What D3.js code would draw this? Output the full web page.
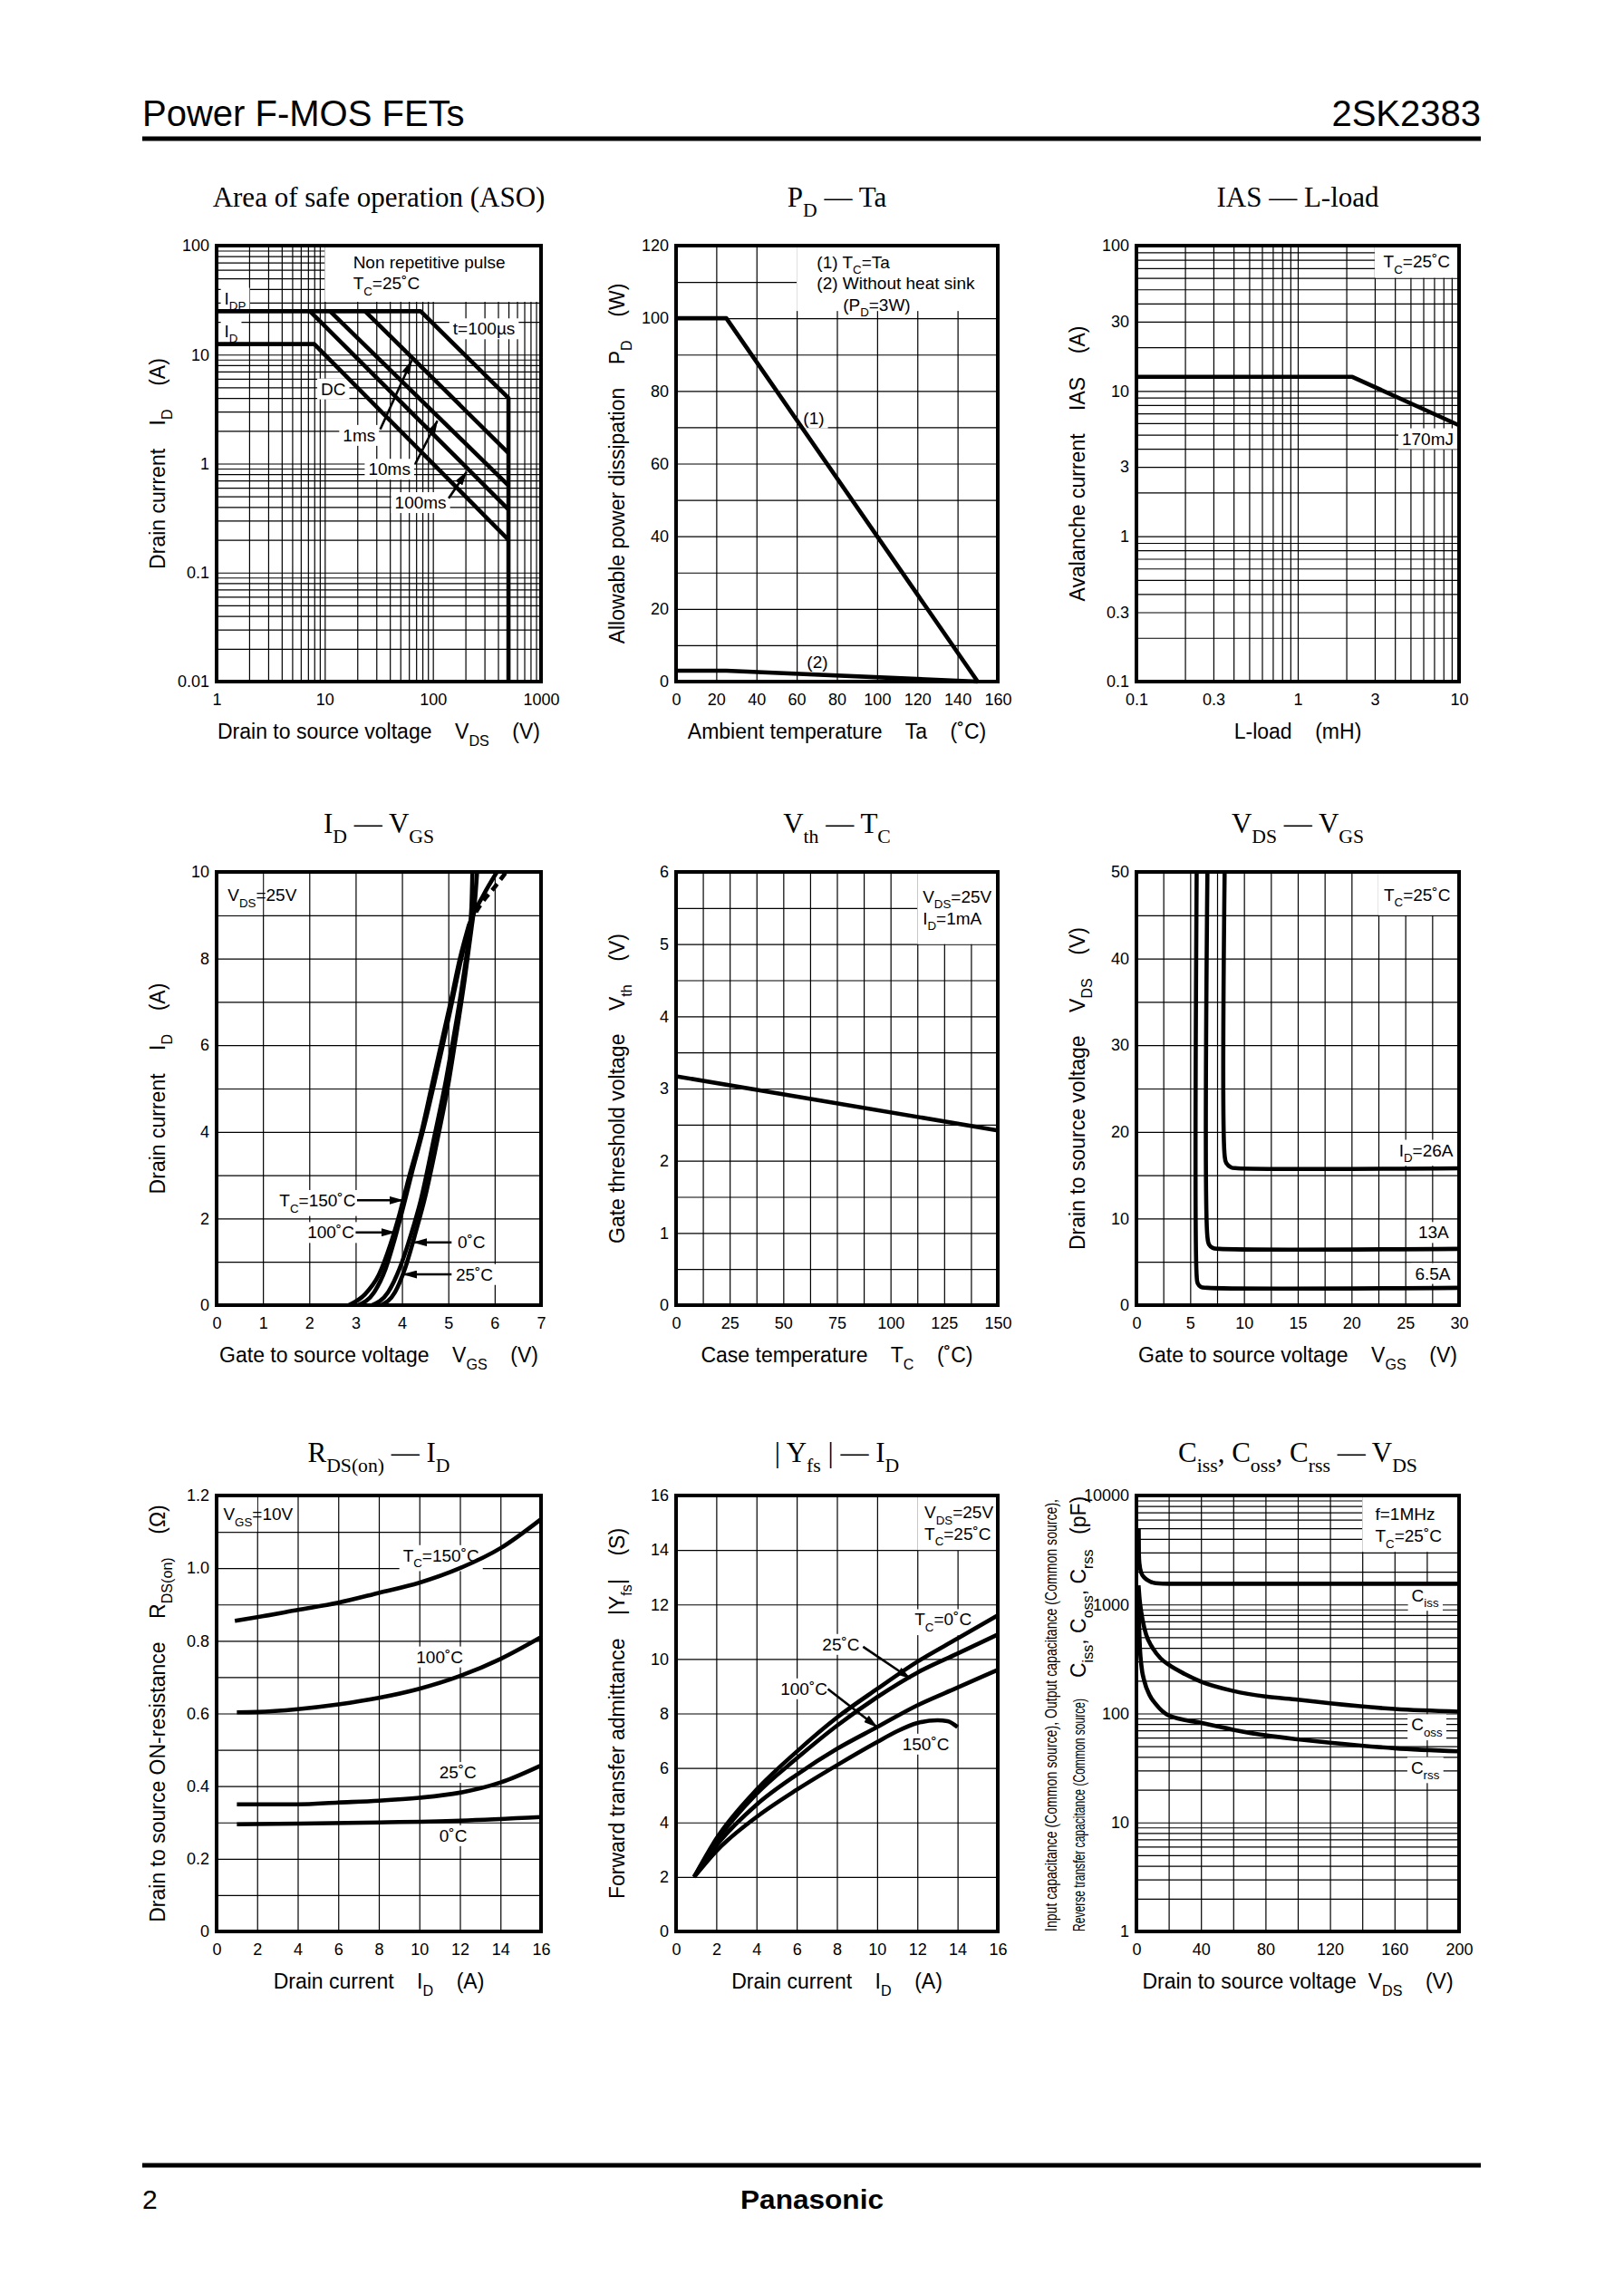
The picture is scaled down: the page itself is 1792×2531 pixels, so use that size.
<!DOCTYPE html>
<html><head><meta charset="utf-8">
<script src="https://cdn.jsdelivr.net/npm/d3@7"></script>
<style>html,body{margin:0;padding:0;background:#fff;}svg{display:block;}</style>
</head><body>
<svg id="page" width="1792" height="2531"></svg>
<script>
// ================= DATA =================
// Area of safe operation (ASO)  [VDS (V), ID (A)]
const asoXTicks = [1, 10, 100, 1000];
const asoYTicks = [0.01, 0.1, 1, 10, 100];
const asoT100us = [[1, 25], [77, 25], [500, 4.0], [500, 0.01]];
const asoT1ms = [[23.6, 25], [500, 1.25]];
const asoT10ms = [[11.2, 25], [500, 0.63]];
const asoT100ms = [[7.3, 25], [500, 0.38]];
const asoDC = [[1, 12.5], [8, 12.5], [500, 0.2]];

// PD - Ta  [Ta, PD]
const pdXTicks = [0, 20, 40, 60, 80, 100, 120, 140, 160];
const pdYTicks = [0, 20, 40, 60, 80, 100, 120];
const pdCase = [[0, 100], [25, 100], [150, 0]];
const pdNoSink = [[0, 3], [25, 3], [150, 0]];

// IAS - L-load  [L (mH), IAS (A)]
const iasXTicks = [0.1, 0.3, 1, 3, 10];
const iasYTicks = [0.1, 0.3, 1, 3, 10, 30, 100];
const iasCurve = [[0.1, 12.5], [2.18, 12.5], [10, 5.8]];

// ID - VGS  [VGS, ID]
const idXTicks = [0, 1, 2, 3, 4, 5, 6, 7];
const idYTicks = [0, 2, 4, 6, 8, 10];
const id150 = [[2.85, 0], [3.2, 0.25], [3.5, 0.7], [3.75, 1.4], [3.92, 2.0], [4.15, 2.95], [4.42, 4.0], [4.63, 5.0], [4.84, 6.0], [5.05, 7.0], [5.25, 8.0], [5.45, 8.8]];
const id150Dash = [[5.45, 8.8], [5.7, 9.25], [6.0, 9.65], [6.25, 10]];
const id100 = [[3.05, 0], [3.4, 0.3], [3.65, 0.85], [3.85, 1.55], [4.0, 2.15], [4.2, 3.0], [4.47, 4.1], [4.68, 5.05], [4.88, 6.0], [5.08, 7.0], [5.28, 8.0], [5.48, 8.85], [5.75, 9.45], [6.05, 10]];
const id0 = [[3.35, 0], [3.7, 0.3], [3.95, 0.85], [4.2, 1.65], [4.4, 2.4], [4.7, 3.9], [4.95, 5.2], [5.1, 6.1], [5.3, 7.4], [5.45, 8.6], [5.5, 9.2], [5.52, 10]];
const id25 = [[3.55, 0], [3.85, 0.3], [4.05, 0.8], [4.3, 1.7], [4.5, 2.5], [4.78, 3.9], [5.0, 5.1], [5.15, 6.1], [5.35, 7.5], [5.5, 8.7], [5.58, 9.4], [5.62, 10]];

// Vth - TC  [TC, Vth]
const vthXTicks = [0, 25, 50, 75, 100, 125, 150];
const vthYTicks = [0, 1, 2, 3, 4, 5, 6];
const vthCurve = [[0, 3.17], [150, 2.42]];

// VDS - VGS  [VGS, VDS]
const vdsXTicks = [0, 5, 10, 15, 20, 25, 30];
const vdsYTicks = [0, 10, 20, 30, 40, 50];
const vds6A5 = [[5.6, 50], [5.6, 3.4], [5.7, 2.5], [6.0, 2.1], [6.6, 2.0], [30, 2.0]];
const vds13A = [[6.6, 50], [6.6, 7.9], [6.75, 7.0], [7.1, 6.6], [7.7, 6.5], [30, 6.5]];
const vds26A = [[8.2, 50], [8.2, 17.3], [8.35, 16.4], [8.8, 15.9], [9.4, 15.8], [30, 15.8]];

// RDS(on) - ID  [ID, RDS(on)]
const rdsXTicks = [0, 2, 4, 6, 8, 10, 12, 14, 16];
const rdsYTicks = [0, 0.2, 0.4, 0.6, 0.8, 1.0, 1.2];
const rds150 = [[0.9, 0.855], [2, 0.865], [4, 0.885], [6, 0.905], [8, 0.932], [10, 0.96], [12, 1.0], [14, 1.055], [16, 1.135]];
const rds100 = [[1, 0.603], [2, 0.604], [4, 0.612], [6, 0.625], [8, 0.643], [10, 0.668], [12, 0.703], [14, 0.75], [16, 0.81]];
const rds25 = [[1, 0.35], [4, 0.35], [6, 0.355], [8, 0.36], [10, 0.368], [12, 0.382], [14, 0.41], [16, 0.457]];
const rds0 = [[1, 0.295], [4, 0.297], [8, 0.3], [12, 0.305], [16, 0.315]];

// |Yfs| - ID  [ID, Yfs]
const yfsXTicks = [0, 2, 4, 6, 8, 10, 12, 14, 16];
const yfsYTicks = [0, 2, 4, 6, 8, 10, 12, 14, 16];
const yfs0 = [[0.9, 2.0], [2, 3.4], [4, 5.2], [6, 6.6], [8, 7.85], [10, 8.9], [12, 9.9], [14, 10.75], [16, 11.6]];
const yfs25 = [[0.9, 2.0], [2, 3.3], [4, 5.05], [6, 6.35], [8, 7.55], [10, 8.6], [12, 9.5], [14, 10.2], [16, 10.9]];
const yfs100 = [[0.9, 2.0], [2, 3.15], [4, 4.65], [6, 5.75], [8, 6.7], [10, 7.5], [12, 8.3], [14, 8.95], [16, 9.6]];
const yfs150 = [[0.9, 2.0], [2, 2.95], [4, 4.2], [6, 5.2], [8, 6.1], [10, 6.95], [11, 7.35], [12, 7.65], [13, 7.75], [13.5, 7.72], [14, 7.5]];

// Ciss, Coss, Crss - VDS  [VDS, C (pF)]
const capXTicks = [0, 40, 80, 120, 160, 200];
const capYTicks = [1, 10, 100, 1000, 10000];
const ciss = [[1.4, 5000], [1.5, 3000], [1.8, 2400], [3, 1950], [5, 1760], [8, 1640], [12, 1570], [20, 1550], [200, 1550]];
const coss = [[1.3, 1500], [2, 1100], [3, 850], [4, 700], [6, 530], [10, 400], [15, 320], [20, 280], [30, 230], [40, 196], [60, 161], [80, 143], [100, 134], [120, 124], [160, 110], [200, 104]];
const crss = [[1.4, 1000], [1.6, 700], [2, 452], [3, 281], [5, 196], [8, 149], [12, 122], [20, 96], [40, 82], [60, 71], [80, 63], [100, 58], [120, 54], [160, 48], [200, 45]];

// ================= DRAWING =================
const SANS = '"Liberation Sans", Arial, Helvetica, sans-serif';
const SERIF = '"Liberation Serif", "Times New Roman", serif';
const svg = d3.select('#page');
svg.append('rect').attr('width', 1792).attr('height', 2531).attr('fill', '#fff');

const marker = svg.append('defs').append('marker').attr('id', 'arr')
  .attr('viewBox', '0 0 16 9').attr('refX', 15).attr('refY', 4.5)
  .attr('markerWidth', 16).attr('markerHeight', 9).attr('markerUnits', 'userSpaceOnUse')
  .attr('orient', 'auto');
marker.append('path').attr('d', 'M0,0 L16,4.5 L0,9 Z').attr('fill', '#000');

function rich(t, str, size) {
  const parts = str.split(/(_\{[^}]*\})/).filter(s => s.length);
  const sh = size * 0.35;
  let down = false;
  parts.forEach(p => {
    if (p.startsWith('_{')) {
      const ts = t.append('tspan').attr('font-size', size * 0.7).text(p.slice(2, -1));
      if (!down) ts.attr('dy', sh);
      down = true;
    } else {
      const ts = t.append('tspan').text(p);
      if (down) ts.attr('dy', -sh);
      down = false;
    }
  });
  return t;
}

const COLS = [[239, 597], [746, 1101], [1254, 1610]];
const ROWS = [[271, 752, 228], [962, 1440, 919], [1650, 2131, 1613]];

function makeChart(c) {
  const [left, right] = COLS[c.col];
  const [top, bottom, titleY] = ROWS[c.row];
  const W = right - left, H = bottom - top;
  const x = (c.xLog ? d3.scaleLog() : d3.scaleLinear()).domain(c.xDomain).range([left, right]);
  const y = (c.yLog ? d3.scaleLog() : d3.scaleLinear()).domain(c.yDomain).range([bottom, top]);
  const g = svg.append('g');
  const xGrid = c.xLog ? x.ticks() : d3.range(c.xDomain[0], c.xDomain[1] + c.xStep / 2, c.xStep);
  const yGrid = c.yLog ? y.ticks() : d3.range(c.yDomain[0], c.yDomain[1] + c.yStep / 2, c.yStep);
  const gx = g.append('g').attr('transform', `translate(0,${bottom})`)
    .call(d3.axisBottom(x).tickValues(xGrid).tickSize(-H).tickFormat(''));
  const gy = g.append('g').attr('transform', `translate(${left},0)`)
    .call(d3.axisLeft(y).tickValues(yGrid).tickSize(-W).tickFormat(''));
  [gx, gy].forEach(a => { a.select('.domain').remove(); a.selectAll('line').attr('stroke', '#000').attr('stroke-width', 1.2); });

  const lx = g.append('g').attr('transform', `translate(0,${bottom})`)
    .call(d3.axisBottom(x).tickValues(c.xTicks).tickSize(0).tickPadding(13).tickFormat(c.xFmt || (d => String(d))));
  const ly = g.append('g').attr('transform', `translate(${left},0)`)
    .call(d3.axisLeft(y).tickValues(c.yTicks).tickSize(0).tickPadding(8).tickFormat(c.yFmt || (d => String(d))));
  [lx, ly].forEach(a => {
    a.select('.domain').remove();
    a.attr('font-family', SANS).attr('font-size', 18);
    a.selectAll('text').attr('fill', '#000');
  });

  const ch = { x, y, left, right, top, bottom, ly };
  ch.gBg = g.append('g');
  ch.gCurves = g.append('g');
  ch.gArrows = g.append('g');
  ch.gText = g.append('g');

  const line = d3.line().x(d => x(d[0])).y(d => y(d[1]));
  (c.series || []).forEach(s => {
    ch.gCurves.append('path').attr('d', line.curve(s.curve || d3.curveLinear)(s.data))
      .attr('fill', 'none').attr('stroke', '#000').attr('stroke-width', s.width || 4.6)
      .attr('stroke-linejoin', 'round').attr('stroke-dasharray', s.dash || null);
  });

  (c.boxes || []).forEach(b => {
    const x0 = x(b[0]), x1 = x(b[2]), y0 = y(b[3]), y1 = y(b[1]);
    ch.gBg.append('rect').attr('x', Math.min(x0, x1)).attr('y', Math.min(y0, y1))
      .attr('width', Math.abs(x1 - x0)).attr('height', Math.abs(y1 - y0)).attr('fill', '#fff');
  });

  (c.labels || []).forEach(L => {
    const size = L.size || 19;
    const t = ch.gText.append('text').attr('x', x(L.x)).attr('y', y(L.y) + size * 0.35)
      .attr('text-anchor', L.anchor || 'start').attr('font-family', SANS)
      .attr('font-size', size).attr('fill', '#000').style('white-space', 'pre');
    rich(t, L.text, size);
    if (L.bg) {
      const bb = t.node().getBBox();
      ch.gBg.append('rect').attr('x', bb.x - 4).attr('y', bb.y - 1)
        .attr('width', bb.width + 8).attr('height', bb.height + 2).attr('fill', '#fff');
    }
  });

  (c.arrows || []).forEach(a => {
    ch.gArrows.append('line').attr('x1', x(a[0][0])).attr('y1', y(a[0][1]))
      .attr('x2', x(a[1][0])).attr('y2', y(a[1][1]))
      .attr('stroke', '#000').attr('stroke-width', 2.6).attr('marker-end', 'url(#arr)');
  });

  g.append('rect').attr('x', left).attr('y', top).attr('width', W).attr('height', H)
    .attr('fill', 'none').attr('stroke', '#000').attr('stroke-width', 4);

  // chart title
  rich(svg.append('text').attr('x', (left + right) / 2 + (c.titleDx || 0)).attr('y', titleY)
    .attr('text-anchor', 'middle').attr('font-family', SERIF).attr('font-size', 31)
    .attr('fill', '#000').style('white-space', 'pre'), c.title, 31);
  // x title
  rich(svg.append('text').attr('x', (left + right) / 2 + (c.xTitleDx || 0)).attr('y', bottom + 63)
    .attr('text-anchor', 'middle').attr('font-family', SANS).attr('font-size', 23)
    .attr('fill', '#000').style('white-space', 'pre'), c.xTitle, 23);
  // y title
  if (c.yTitle) {
    rich(svg.append('text').attr('transform', `translate(${left - 65},${(top + bottom) / 2}) rotate(-90)`)
      .attr('x', 0).attr('y', 23 * 0.35).attr('text-anchor', 'middle').attr('font-family', SANS)
      .attr('font-size', 23).attr('fill', '#000').style('white-space', 'pre'), c.yTitle, 23);
  }
  return ch;
}

// ---- Chart 1: ASO
makeChart({
  col: 0, row: 0, xLog: true, yLog: true, xDomain: [1, 1000], yDomain: [0.01, 100],
  xTicks: asoXTicks, yTicks: asoYTicks,
  title: 'Area of safe operation (ASO)',
  xTitle: 'Drain to source voltage    V_{DS}    (V)',
  yTitle: 'Drain current    I_{D}    (A)',
  series: [{ data: asoT100us }, { data: asoT1ms }, { data: asoT10ms }, { data: asoT100ms }, { data: asoDC }],
  boxes: [[10, 30.5, 1000, 100]],
  labels: [
    { x: 18.3, y: 71, text: 'Non repetitive pulse' },
    { x: 18.3, y: 45, text: 'T_{C}=25˚C' },
    { x: 1.18, y: 33, text: 'I_{DP}', bg: true },
    { x: 1.18, y: 16.5, text: 'I_{D}', bg: true },
    { x: 297, y: 17.3, text: 't=100µs', anchor: 'middle', bg: true },
    { x: 12, y: 4.85, text: 'DC', anchor: 'middle', bg: true },
    { x: 20.8, y: 1.82, text: '1ms', anchor: 'middle', bg: true },
    { x: 39.6, y: 0.89, text: '10ms', anchor: 'middle', bg: true },
    { x: 77, y: 0.44, text: '100ms', anchor: 'middle', bg: true }
  ],
  arrows: [[[32.6, 2.06], [63.5, 8.8]], [[68.6, 0.99], [110, 2.47]], [[140, 0.48], [205, 0.84]]]
});

// ---- Chart 2: PD - Ta
makeChart({
  col: 1, row: 0, xDomain: [0, 160], yDomain: [0, 120], xStep: 20, yStep: 10,
  xTicks: pdXTicks, yTicks: pdYTicks,
  title: 'P_{D} — Ta',
  xTitle: 'Ambient temperature    Ta    (˚C)',
  yTitle: 'Allowable power dissipation    P_{D}    (W)',
  series: [{ data: pdCase }, { data: pdNoSink }],
  boxes: [[60, 102, 160, 120]],
  labels: [
    { x: 70, y: 115.5, text: '(1) T_{C}=Ta' },
    { x: 70, y: 109.8, text: '(2) Without heat sink' },
    { x: 83, y: 103.8, text: '(P_{D}=3W)' },
    { x: 68.5, y: 72.6, text: '(1)', anchor: 'middle', bg: true },
    { x: 70.3, y: 5.4, text: '(2)', anchor: 'middle', bg: true }
  ]
});

// ---- Chart 3: IAS - L-load
makeChart({
  col: 2, row: 0, xLog: true, yLog: true, xDomain: [0.1, 10], yDomain: [0.1, 100],
  xTicks: iasXTicks, yTicks: iasYTicks,
  title: 'IAS — L-load',
  xTitle: 'L-load    (mH)',
  yTitle: 'Avalanche current    IAS    (A)',
  series: [{ data: iasCurve }],
  boxes: [[3, 60, 10, 100]],
  labels: [
    { x: 3.4, y: 78, text: 'T_{C}=25˚C' },
    { x: 6.4, y: 4.7, text: '170mJ', anchor: 'middle', bg: true }
  ]
});

// ---- Chart 4: ID - VGS
makeChart({
  col: 0, row: 1, xDomain: [0, 7], yDomain: [0, 10], xStep: 1, yStep: 1,
  xTicks: idXTicks, yTicks: idYTicks,
  title: 'I_{D} — V_{GS}',
  xTitle: 'Gate to source voltage    V_{GS}    (V)',
  yTitle: 'Drain current    I_{D}    (A)',
  series: [
    { data: id150, curve: d3.curveMonotoneX }, { data: id150Dash, curve: d3.curveMonotoneX, dash: '9,6' },
    { data: id100, curve: d3.curveMonotoneX }, { data: id0, curve: d3.curveMonotoneX }, { data: id25, curve: d3.curveMonotoneX }
  ],
  boxes: [[0, 9, 1, 10]],
  labels: [
    { x: 0.24, y: 9.46, text: 'V_{DS}=25V' },
    { x: 3.0, y: 2.42, text: 'T_{C}=150˚C', anchor: 'end', bg: true },
    { x: 2.97, y: 1.68, text: '100˚C', anchor: 'end', bg: true },
    { x: 5.2, y: 1.45, text: '0˚C', bg: true },
    { x: 5.16, y: 0.71, text: '25˚C', bg: true }
  ],
  arrows: [[[3.03, 2.42], [4.02, 2.42]], [[3.0, 1.68], [3.85, 1.68]], [[5.07, 1.45], [4.25, 1.45]], [[5.07, 0.71], [4.03, 0.71]]]
});

// ---- Chart 5: Vth - TC
makeChart({
  col: 1, row: 1, xDomain: [0, 150], yDomain: [0, 6], xStep: 12.5, yStep: 0.5,
  xTicks: vthXTicks, yTicks: vthYTicks,
  title: 'V_{th} — T_{C}',
  xTitle: 'Case temperature    T_{C}    (˚C)',
  yTitle: 'Gate threshold voltage    V_{th}    (V)',
  series: [{ data: vthCurve }],
  boxes: [[112.5, 5, 150, 6]],
  labels: [
    { x: 115, y: 5.66, text: 'V_{DS}=25V' },
    { x: 115, y: 5.36, text: 'I_{D}=1mA' }
  ]
});

// ---- Chart 6: VDS - VGS
makeChart({
  col: 2, row: 1, xDomain: [0, 30], yDomain: [0, 50], xStep: 2.5, yStep: 5,
  xTicks: vdsXTicks, yTicks: vdsYTicks,
  title: 'V_{DS} — V_{GS}',
  xTitle: 'Gate to source voltage    V_{GS}    (V)',
  yTitle: 'Drain to source voltage    V_{DS}    (V)',
  series: [{ data: vds6A5, curve: d3.curveCatmullRom }, { data: vds13A, curve: d3.curveCatmullRom }, { data: vds26A, curve: d3.curveCatmullRom }],
  boxes: [[22.5, 45, 30, 50]],
  labels: [
    { x: 23, y: 47.4, text: 'T_{C}=25˚C' },
    { x: 29.45, y: 17.9, text: 'I_{D}=26A', anchor: 'end', bg: true },
    { x: 29.05, y: 8.4, text: '13A', anchor: 'end', bg: true },
    { x: 29.2, y: 3.67, text: '6.5A', anchor: 'end', bg: true }
  ]
});

// ---- Chart 7: RDS(on) - ID
makeChart({
  col: 0, row: 2, xDomain: [0, 16], yDomain: [0, 1.2], xStep: 2, yStep: 0.1,
  xTicks: rdsXTicks, yTicks: rdsYTicks, yFmt: d => d === 0 ? '0' : d.toFixed(1),
  title: 'R_{DS(on)} — I_{D}',
  xTitle: 'Drain current    I_{D}    (A)',
  yTitle: 'Drain to source ON-resistance    R_{DS(on)}    (Ω)',
  series: [
    { data: rds150, curve: d3.curveMonotoneX }, { data: rds100, curve: d3.curveMonotoneX },
    { data: rds25, curve: d3.curveMonotoneX }, { data: rds0, curve: d3.curveMonotoneX }
  ],
  boxes: [[0, 1.1, 2, 1.2]],
  labels: [
    { x: 0.33, y: 1.148, text: 'V_{GS}=10V' },
    { x: 11.07, y: 1.035, text: 'T_{C}=150˚C', anchor: 'middle', bg: true },
    { x: 11.0, y: 0.756, text: '100˚C', anchor: 'middle', bg: true },
    { x: 11.9, y: 0.438, text: '25˚C', anchor: 'middle', bg: true },
    { x: 11.67, y: 0.264, text: '0˚C', anchor: 'middle', bg: true }
  ]
});

// ---- Chart 8: |Yfs| - ID
makeChart({
  col: 1, row: 2, xDomain: [0, 16], yDomain: [0, 16], xStep: 2, yStep: 2,
  xTicks: yfsXTicks, yTicks: yfsYTicks,
  title: '| Y_{fs} | — I_{D}',
  xTitle: 'Drain current    I_{D}    (A)',
  yTitle: 'Forward transfer admittance    |Y_{fs}|    (S)',
  series: [
    { data: yfs0, curve: d3.curveMonotoneX }, { data: yfs25, curve: d3.curveMonotoneX },
    { data: yfs100, curve: d3.curveMonotoneX }, { data: yfs150, curve: d3.curveMonotoneX }
  ],
  boxes: [[12, 14, 16, 16]],
  labels: [
    { x: 12.35, y: 15.38, text: 'V_{DS}=25V' },
    { x: 12.35, y: 14.6, text: 'T_{C}=25˚C' },
    { x: 13.28, y: 11.45, text: 'T_{C}=0˚C', anchor: 'middle', bg: true },
    { x: 8.2, y: 10.54, text: '25˚C', anchor: 'middle', bg: true },
    { x: 6.36, y: 8.91, text: '100˚C', anchor: 'middle', bg: true },
    { x: 12.42, y: 6.88, text: '150˚C', anchor: 'middle', bg: true }
  ],
  arrows: [[[9.3, 10.45], [11.65, 9.28]], [[7.55, 8.9], [10.0, 7.5]]]
});

// ---- Chart 9: Ciss, Coss, Crss - VDS
const capChart = makeChart({
  col: 2, row: 2, yLog: true, xDomain: [0, 200], yDomain: [1, 10000], xStep: 20,
  xTicks: capXTicks, yTicks: capYTicks,
  title: 'C_{iss}, C_{oss}, C_{rss} — V_{DS}',
  xTitle: 'Drain to source voltage  V_{DS}    (V)',
  series: [
    { data: ciss, curve: d3.curveMonotoneX }, { data: coss, curve: d3.curveMonotoneX }, { data: crss, curve: d3.curveMonotoneX }
  ],
  boxes: [[140, 3040, 200, 10000]],
  labels: [
    { x: 148, y: 6820, text: 'f=1MHz' },
    { x: 148, y: 4240, text: 'T_{C}=25˚C' },
    { x: 179, y: 1220, text: 'C_{iss}', anchor: 'middle', bg: true },
    { x: 180, y: 79, text: 'C_{oss}', anchor: 'middle', bg: true },
    { x: 179, y: 32, text: 'C_{rss}', anchor: 'middle', bg: true }
  ]
});
capChart.ly.selectAll('.tick text').filter(d => d === 10000).attr('textLength', 50).attr('lengthAdjust', 'spacingAndGlyphs');

// special y title for capacitance chart
(function () {
  const top = capChart.top, bottom = capChart.bottom, left = capChart.left;
  svg.append('text').attr('transform', `translate(${left - 95},${bottom}) rotate(-90)`)
    .attr('x', 0).attr('y', 19 * 0.35).attr('font-family', SANS).attr('font-size', 19)
    .attr('textLength', bottom - top - 4).attr('lengthAdjust', 'spacingAndGlyphs').attr('fill', '#000')
    .text('Input capacitance (Common source), Output capacitance (Common source),');
  svg.append('text').attr('transform', `translate(${left - 64},${bottom}) rotate(-90)`)
    .attr('x', 0).attr('y', 19 * 0.35).attr('font-family', SANS).attr('font-size', 19)
    .attr('textLength', 257).attr('lengthAdjust', 'spacingAndGlyphs').attr('fill', '#000')
    .text('Reverse transfer capacitance (Common source)');
  rich(svg.append('text').attr('transform', `translate(${left - 64},${bottom - 280}) rotate(-90)`)
    .attr('x', 0).attr('y', 23 * 0.35).attr('font-family', SANS).attr('font-size', 23)
    .attr('fill', '#000').style('white-space', 'pre'), 'C_{iss}, C_{oss}, C_{rss}', 23);
  svg.append('text').attr('transform', `translate(${left - 64},${top + 43}) rotate(-90)`)
    .attr('x', 0).attr('y', 23 * 0.35).attr('font-family', SANS).attr('font-size', 23)
    .attr('fill', '#000').text('(pF)');
})();

// ---- header / footer
svg.append('text').attr('x', 157).attr('y', 139).attr('font-family', SANS).attr('font-size', 40)
  .attr('fill', '#000').text('Power F-MOS FETs');
svg.append('text').attr('x', 1634).attr('y', 139).attr('text-anchor', 'end').attr('font-family', SANS)
  .attr('font-size', 40).attr('fill', '#000').text('2SK2383');
svg.append('line').attr('x1', 157).attr('x2', 1634).attr('y1', 153).attr('y2', 153)
  .attr('stroke', '#000').attr('stroke-width', 5);
svg.append('line').attr('x1', 157).attr('x2', 1634).attr('y1', 2389).attr('y2', 2389)
  .attr('stroke', '#000').attr('stroke-width', 5);
svg.append('text').attr('x', 157).attr('y', 2437).attr('font-family', SANS).attr('font-size', 30)
  .attr('fill', '#000').text('2');
svg.append('text').attr('x', 896).attr('y', 2437).attr('text-anchor', 'middle').attr('font-family', SANS)
  .attr('font-weight', 'bold').attr('font-size', 30).attr('textLength', 158).attr('lengthAdjust', 'spacingAndGlyphs')
  .attr('fill', '#000').text('Panasonic');
</script>
</body></html>
